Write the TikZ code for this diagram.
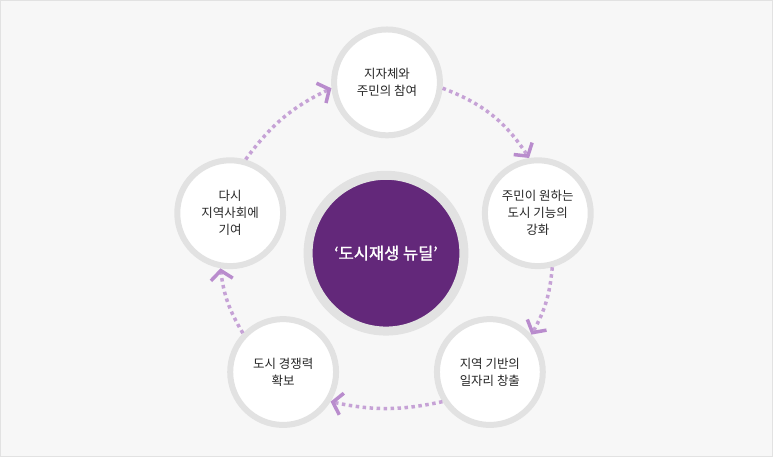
\documentclass[tikz,border=0pt]{standalone}
\usepackage{fontspec}
\setmainfont{Noto Sans CJK KR}
\newfontfamily\centerfont[FakeBold=1.2]{Noto Sans CJK KR}
\usetikzlibrary{arrows.meta}
\definecolor{bg}{HTML}{F7F7F7}
\definecolor{ring}{HTML}{E2E2E2}
\definecolor{purp}{HTML}{63287A}
\definecolor{arr}{HTML}{C6A2D6}
\definecolor{arrhead}{HTML}{B98CCD}
\begin{document}
\begin{tikzpicture}[x=1pt,y=-1pt,
  stage/.style={circle,fill=white,draw=ring,line width=6pt,minimum size=106pt,inner sep=0pt,align=center,font=\fontsize{12.5}{17}\selectfont,text=black!85},
  flow/.style={draw=arr,line width=3.5pt,dash pattern=on 3.5pt off 3.5pt,bend left=18,
    -{Straight Barb[length=9pt,width=22pt,line width=3.5pt,color=arrhead]}}]
\fill[bg,draw=ring,line width=1pt] (0,0) rectangle (773,457);
\node[circle,fill=purp,draw=ring,line width=9pt,minimum size=156pt,text=white,font=\centerfont\fontsize{16.5}{20}\selectfont] (c) at (386,253) {‘도시재생 뉴딜’};
\node[stage] (t) at (387,82) {지자체와\\주민의 참여};
\node[stage] (r) at (538,213) {주민이 원하는\\도시 기능의\\강화};
\node[stage] (br) at (490,372) {지역 기반의\\일자리 창출};
\node[stage] (bl) at (283,372) {도시 경쟁력\\확보};
\node[stage] (l) at (230,213) {다시\\지역사회에\\기여};
\draw[flow] (t.-6) to (r.99);
\draw[flow,bend left=12] (r.-75) to (br.42);
\draw[flow,bend left=12] (br.212) to (bl.-32);
\draw[flow,bend left=12] (bl.136) to (l.-100);
\draw[flow,bend left=14] (l.74) to (t.186);
\end{tikzpicture}
\end{document}
